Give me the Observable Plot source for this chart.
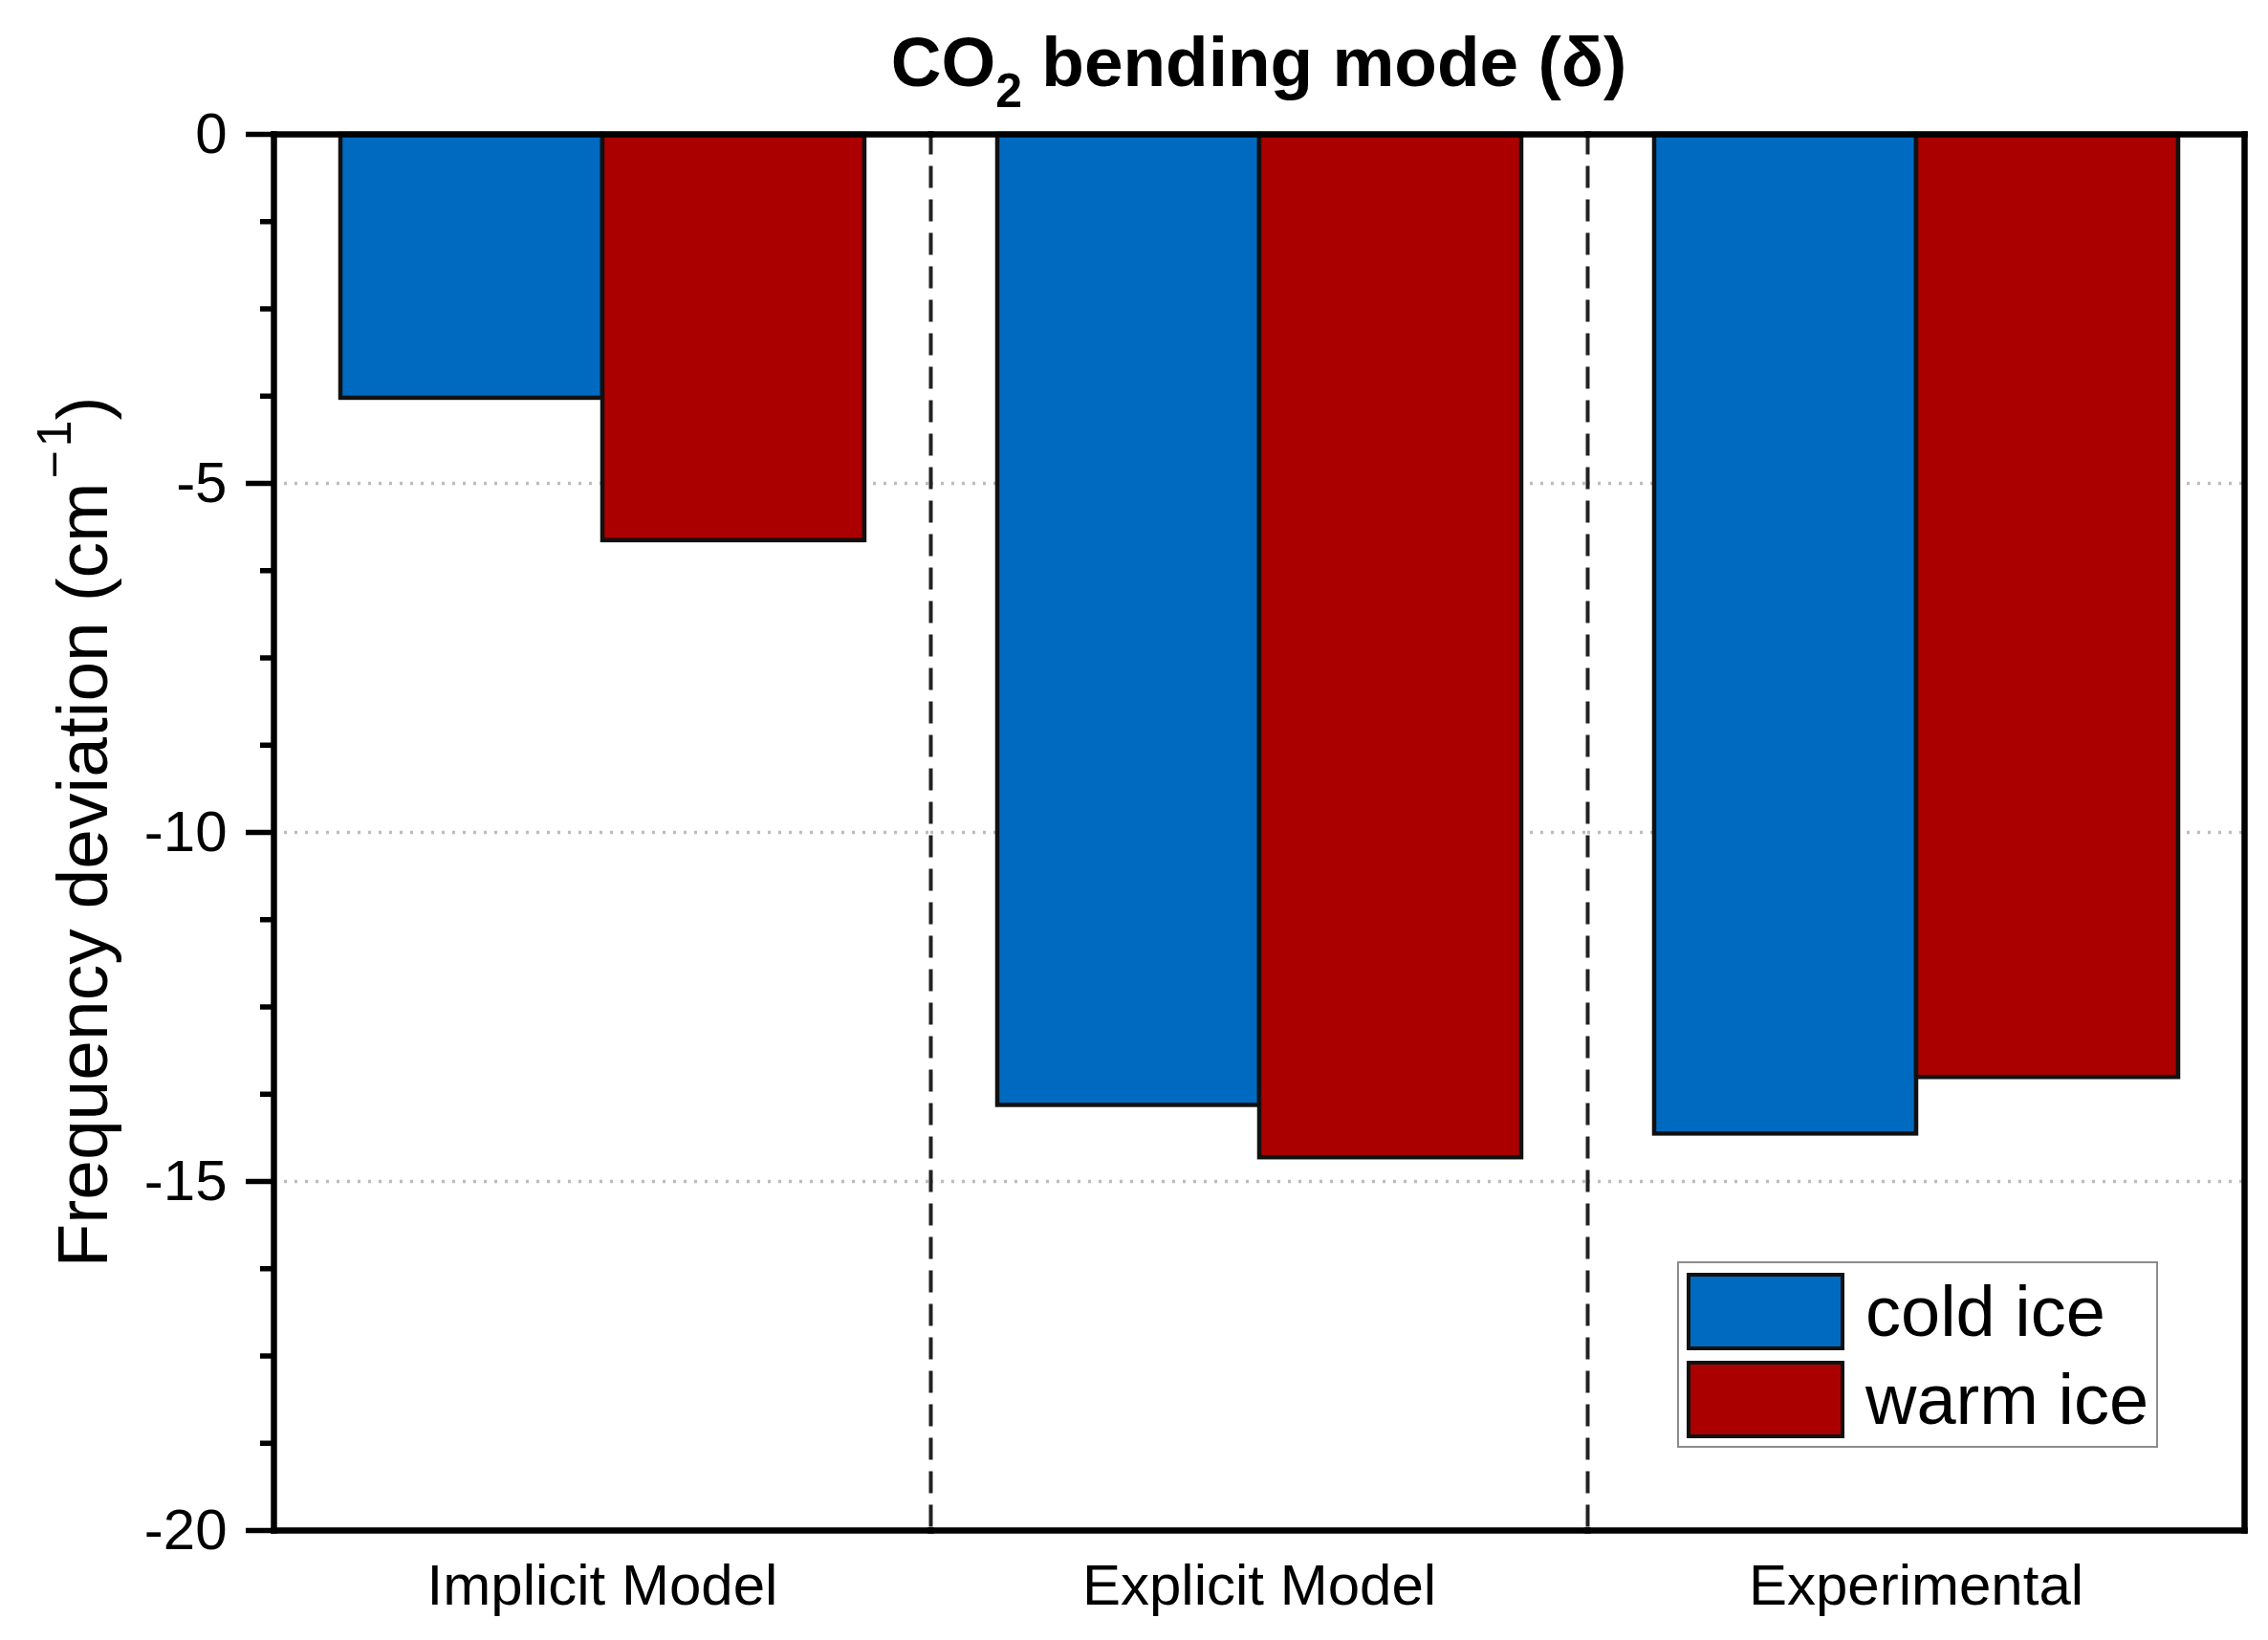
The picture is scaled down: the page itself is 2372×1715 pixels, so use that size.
<!DOCTYPE html>
<html>
<head>
<meta charset="utf-8">
<script src="https://cdn.jsdelivr.net/npm/d3@7"></script>
<script src="https://cdn.jsdelivr.net/npm/@observablehq/plot@0.6"></script>
<style>
  body { margin: 0; background: #fff; font-family: "Liberation Sans", Arial, sans-serif; }
  #wrap { position: relative; width: 2372px; height: 1715px; background: #fff; }
  #title { height: 100px; line-height: 130px; padding-left: 285px; padding-right: 24px; text-align: center;
           font-weight: bold; font-size: 73px; white-space: nowrap; color: #000; }
  #title .sub { font-size: 50px; position: relative; top: 22px; }
  #legend { position: absolute; left: 1754px; top: 1319px; width: 503px; height: 195px; box-sizing: border-box;
            border: 2.5px solid #8c8c8c; background: #fff; }
  .row { position: absolute; left: 8px; height: 81px; display: flex; align-items: center; }
  .sw { width: 165px; height: 81px; box-sizing: border-box; border: 4px solid #111; }
  .lab { margin-left: 22px; font-size: 74px; line-height: 1; color: #000; white-space: nowrap; }
</style>
</head>
<body>
<div id="wrap">
  <div id="title">CO<span class="sub">2</span> bending mode (δ)</div>
  <div id="chart"></div>
  <div id="legend"></div>
</div>
<script>
const groups = ["Implicit Model", "Explicit Model", "Experimental"];
const series = ["cold ice", "warm ice"];
const coldIce = [-3.78, -13.91, -14.32];
const warmIce = [-5.82, -14.66, -13.51];
const colors = ["#006ac0", "#aa0000"];
const majorTicks = [0, -5, -10, -15, -20];
const minorTicks = [-1.25, -2.5, -3.75, -6.25, -7.5, -8.75, -11.25, -12.5, -13.75, -16.25, -17.5, -18.75];
const gridTicks = [-5, -10, -15];

const data = groups.flatMap((g, i) => [
  {group: g, series: series[0], value: coldIce[i]},
  {group: g, series: series[1], value: warmIce[i]}
]);

const plot = Plot.plot({
  width: 2372,
  height: 1615,
  marginTop: 40,
  marginBottom: 115,
  marginLeft: 285,
  marginRight: 24,
  style: {fontFamily: "'Liberation Sans', Arial, sans-serif", fontSize: "60px", background: "white", color: "black", overflow: "visible", display: "block"},
  fx: {domain: groups, padding: 0, label: null},
  x: {domain: series, paddingInner: 0, paddingOuter: 0.25, axis: null},
  y: {domain: [-20, 0], label: null},
  color: {domain: series, range: colors},
  marks: [
    Plot.gridY({ticks: gridTicks, stroke: "#bdbdbd", strokeOpacity: 1, strokeWidth: 3.5, strokeDasharray: "3 8"}),
    Plot.barY(data, {fx: "group", x: "series", y: "value", fill: "series", stroke: "#111", strokeWidth: 4.5}),
    Plot.frame({anchor: "left", stroke: "#222", strokeWidth: 4, strokeDasharray: "19 16"}),
    Plot.frame({anchor: "top", stroke: "#000", strokeWidth: 6.5}),
    Plot.frame({anchor: "bottom", stroke: "#000", strokeWidth: 6.5}),
    Plot.frame({anchor: "left", facetAnchor: "left", stroke: "#000", strokeWidth: 6.5}),
    Plot.frame({anchor: "right", facetAnchor: "right", stroke: "#000", strokeWidth: 6.5}),
    Plot.axisY({ticks: majorTicks, tickSize: 29, tickPadding: 20, tickFormat: d => String(d), fontSize: 60, strokeWidth: 5.5, label: null}),
    Plot.axisY({ticks: minorTicks, tickSize: 14, text: null, strokeWidth: 5.5, label: null}),
    Plot.axisFx({anchor: "bottom", tickSize: 0, tickPadding: 35, fontSize: 60, label: null})
  ]
});

document.getElementById("chart").appendChild(plot);

// y-axis title with superscript
const yS = plot.scale("y");
const yMid = (yS.apply(0) + yS.apply(-20)) / 2;
const svg = d3.select(plot);
const t = svg.append("text")
  .attr("transform", `translate(${285 - 173},${yMid}) rotate(-90)`)
  .attr("text-anchor", "middle")
  .attr("font-size", 75)
  .attr("fill", "#000")
  .attr("font-family", "'Liberation Sans', Arial, sans-serif");
t.append("tspan").text("Frequency deviation (cm");
t.append("tspan").attr("font-size", 50).attr("dy", -38).attr("dx", 4).text("\u2212");
t.append("tspan").attr("font-size", 50).attr("dx", 4).text("1");
t.append("tspan").attr("dy", 38).text(")");

// legend from the plot's colour scale
const color = plot.scale("color");
const legend = document.getElementById("legend");
color.domain.forEach((s, i) => {
  const row = document.createElement("div");
  row.className = "row";
  row.style.top = (10 + i * 92) + "px";
  const sw = document.createElement("div");
  sw.className = "sw";
  sw.style.background = color.range[i];
  const lab = document.createElement("div");
  lab.className = "lab";
  lab.textContent = s;
  row.appendChild(sw);
  row.appendChild(lab);
  legend.appendChild(row);
});
</script>
</body>
</html>
